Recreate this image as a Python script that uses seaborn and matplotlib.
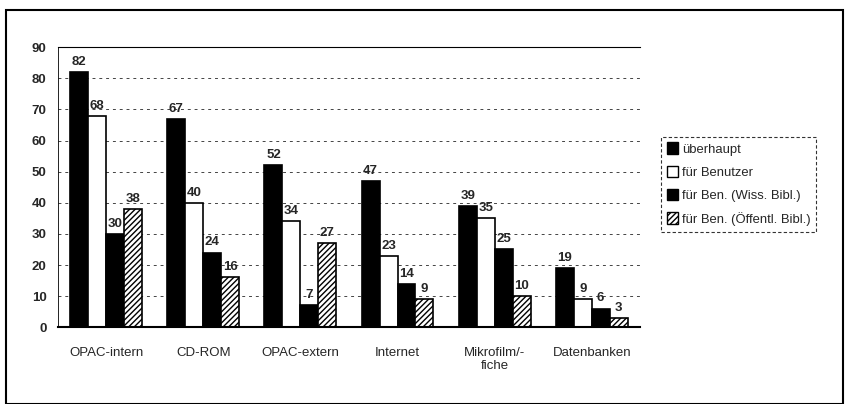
import numpy as np
import pandas as pd
import seaborn as sns
import matplotlib.pyplot as plt
from matplotlib.patches import Rectangle, Patch

# Chart data
categories = ['OPAC-intern', 'CD-ROM', 'OPAC-extern', 'Internet', 'Mikrofilm/-\nfiche', 'Datenbanken']
series = ['überhaupt', 'für Benutzer', 'für Ben. (Wiss. Bibl.)', 'für Ben. (Öffentl. Bibl.)']
ueberhaupt = [82, 67, 52, 47, 39, 19]
fuer_benutzer = [68, 40, 34, 23, 35, 9]
wiss_bibl = [30, 24, 7, 14, 25, 6]
oeff_bibl = [38, 16, 27, 9, 10, 3]

# Long format for seaborn
df = pd.DataFrame({
    'Kategorie': categories * 4,
    'Serie': np.repeat(series, len(categories)),
    'Wert': ueberhaupt + fuer_benutzer + wiss_bibl + oeff_bibl,
})

sns.set_style('white')
plt.rcParams['font.family'] = ['Liberation Sans', 'DejaVu Sans']

fig = plt.figure(figsize=(8.48, 4.04), dpi=100)
ax = fig.add_axes([0.068, 0.19, 0.687, 0.693])

palette = ['black', 'white', 'black', 'white']
sns.barplot(data=df, x='Kategorie', y='Wert', hue='Serie', hue_order=series,
            order=categories, palette=palette, width=0.74, gap=0,
            edgecolor='black', linewidth=1.2, legend=False, ax=ax)

# hatch the last series, add value labels
for i, container in enumerate(ax.containers):
    if i == 3:
        for bar in container:
            bar.set_hatch('//////')
    ax.bar_label(container, fmt='%d', padding=3, fontsize=9.5, fontweight='bold')

ax.set_ylim(0, 90)
ax.set_yticks(range(0, 91, 10))
ax.set_xlabel('')
ax.set_ylabel('')
ax.yaxis.grid(True, linestyle=(0, (3, 4)), color='#444444', linewidth=0.7)
ax.set_axisbelow(True)
ax.tick_params(axis='y', labelsize=9.5, length=0, pad=8)
ax.tick_params(axis='x', labelsize=9.5, length=0, pad=14)
for lbl in ax.get_yticklabels():
    lbl.set_fontweight('bold')
for side in ['right']:
    ax.spines[side].set_visible(False)
ax.spines['bottom'].set_color('black')
ax.spines['bottom'].set_linewidth(1.5)
ax.spines['left'].set_linewidth(0.6)
ax.spines['left'].set_color('black')
ax.spines['top'].set_linewidth(0.8)
ax.spines['top'].set_color('black')

handles = [
    Patch(facecolor='black', edgecolor='black'),
    Patch(facecolor='white', edgecolor='black'),
    Patch(facecolor='black', edgecolor='black'),
    Patch(facecolor='white', edgecolor='black', hatch='//////'),
]
leg = fig.legend(handles, series, loc='upper left', bbox_to_anchor=(0.780, 0.662),
                 fontsize=9.4, frameon=True, handlelength=0.8, handleheight=1.0,
                 handletextpad=0.3, labelspacing=0.75, borderpad=0.45,
                 borderaxespad=0, fancybox=False)
leg.get_frame().set_edgecolor('black')
leg.get_frame().set_linestyle((0, (3, 2)))
leg.get_frame().set_linewidth(0.8)

# outer frame around the whole chart
fig.patches.append(Rectangle((0.007, 0.0), 0.987, 0.975, transform=fig.transFigure,
                             fill=False, edgecolor='black', linewidth=1.5))

fig.savefig('out.png', dpi=100)
